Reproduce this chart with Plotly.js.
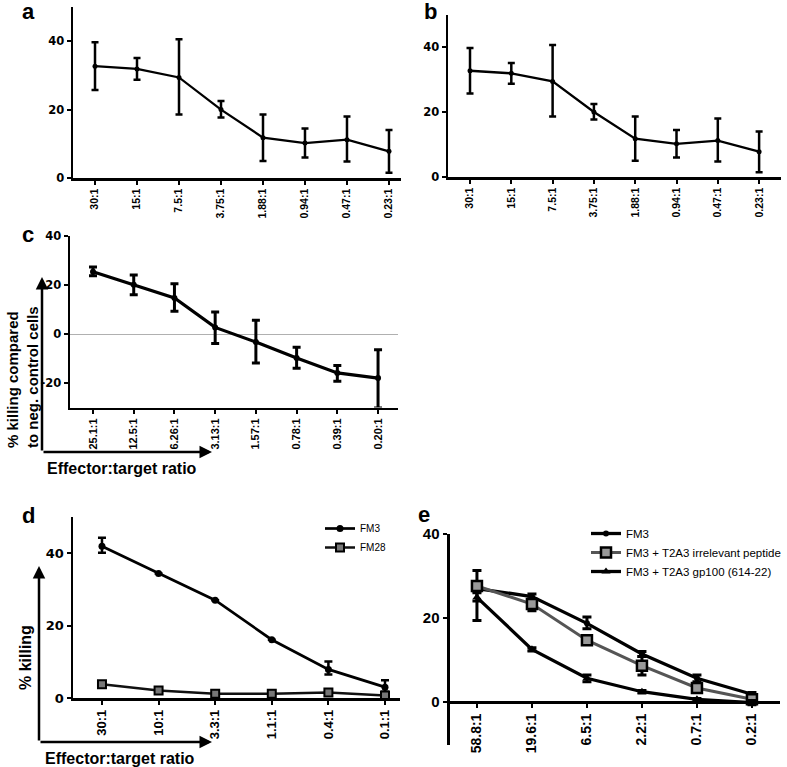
<!DOCTYPE html>
<html>
<head>
<meta charset="utf-8">
<script src="https://cdn.plot.ly/plotly-3.0.1.min.js"></script>
<style>html,body{margin:0;padding:0;background:#fff;}#chart{width:787px;height:767px;}</style>
</head>
<body>
<div id="chart"></div>
<script>
// ---------- DATA ----------
// panels a and b (same experiment shown twice)
const ratiosA = ['30:1','15:1','7.5:1','3.75:1','1.88:1','0.94:1','0.47:1','0.23:1'];
const killA   = [32.7, 31.9, 29.4, 20.0, 11.8, 10.2, 11.2, 7.8];
const hiA     = [39.7, 35.1, 40.6, 22.5, 18.6, 14.5, 18.0, 14.0];
const loA     = [25.7, 28.7, 18.6, 17.7, 5.0, 6.0, 4.8, 1.5];

// panel c
const ratiosC = ['25.1:1','12.5:1','6.26:1','3.13:1','1.57:1','0.78:1','0.39:1','0.20:1'];
const killC   = [25.4, 20.1, 14.7, 2.7, -3.3, -9.8, -15.9, -18.0];
const hiC     = [27.3, 24.1, 20.5, 9.0, 5.6, -5.4, -12.9, -6.4];
const loC     = [23.8, 16.0, 9.3, -3.9, -11.8, -14.0, -19.3, -30.2];

// panel d
const ratiosD = ['30:1','10:1','3.3:1','1.1:1','0.4:1','0.1:1'];
const fm3D    = [41.9, 34.4, 27.0, 16.1, 7.9, 3.0];
const fm3DHi  = [44.3, 34.4, 27.0, 16.1, 10.1, 4.9];
const fm3DLo  = [40.1, 34.4, 27.0, 16.1, 6.5, 1.7];
const fm28D   = [3.8, 2.1, 1.2, 1.2, 1.5, 0.7];
const fm28DHi = [3.8, 2.1, 1.2, 1.2, 2.3, 1.0];
const fm28DLo = [3.8, 2.1, 1.2, 1.2, 0.8, 0.3];

// panel e
const ratiosE = ['58.8:1','19.6:1','6.5:1','2.2:1','0.7:1','0.2:1'];
const fm3E    = [27.0, 25.1, 18.7, 11.4, 5.6, 1.8];
const fm3EHi  = [27.6, 25.7, 20.2, 12.0, 6.4, 2.2];
const fm3ELo  = [26.4, 24.5, 17.4, 10.8, 4.8, 1.4];
const irrE    = [27.6, 23.3, 14.7, 8.6, 3.3, 0.6];
const irrEHi  = [31.3, 24.5, 15.3, 10.8, 3.9, 1.0];
const irrELo  = [24.0, 21.7, 14.1, 6.4, 2.7, 0.2];
const gpE     = [24.9, 12.5, 5.6, 2.4, 0.6, -0.2];
const gpEHi   = [26.0, 12.9, 6.4, 2.7, 0.8, 0.3];
const gpELo   = [19.4, 12.1, 4.8, 2.1, 0.4, -0.7];

const yTicksPos = [0, 20, 40];
const yTicksC = [-20, 0, 20, 40];
const seriesNamesD = ['FM3', 'FM28'];
const seriesNamesE = ['FM3', 'FM3 + T2A3 irrelevant peptide', 'FM3 + T2A3 gp100 (614-22)'];
const yTitleC = '% killing compared<br>to neg. control cells';
const yTitleD = '% killing';
const xTitle = 'Effector:target ratio';
const panelLetters = ['a', 'b', 'c', 'd', 'e'];

// ---------- HELPERS ----------
const W = 787, H = 767;
const px = p => p / W;
const py = p => 1 - p / H;
const plus = (v, hi) => v.map((d, i) => +(hi[i] - d).toFixed(3));
const minus = (v, lo) => v.map((d, i) => +(d - lo[i]).toFixed(3));
const b = s => '<b>' + s + '</b>';
const BOLD = 'Liberation Sans, Arial, sans-serif';
const DJ = 'DejaVu Sans, Liberation Sans, sans-serif';

function errs(v, hi, lo, th, w) {
  return {type: 'data', symmetric: false, array: plus(v, hi), arrayminus: minus(v, lo),
          color: '#000', thickness: th, width: w};
}

const traces = [];
// a
traces.push({x: ratiosA, y: killA, xaxis: 'x', yaxis: 'y', type: 'scatter', mode: 'lines+markers',
  line: {color: '#000', width: 2.3}, marker: {color: '#000', size: 5, symbol: 'circle'},
  error_y: errs(killA, hiA, loA, 2.5, 3.5), showlegend: false, cliponaxis: false});
// b
traces.push({x: ratiosA, y: killA, xaxis: 'x2', yaxis: 'y2', type: 'scatter', mode: 'lines+markers',
  line: {color: '#000', width: 2.3}, marker: {color: '#000', size: 5, symbol: 'circle'},
  error_y: errs(killA, hiA, loA, 2.5, 3.5), showlegend: false, cliponaxis: false});
// c
traces.push({x: ratiosC, y: killC, xaxis: 'x3', yaxis: 'y3', type: 'scatter', mode: 'lines+markers',
  line: {color: '#000', width: 3.2}, marker: {color: '#000', size: 6, symbol: 'circle'},
  error_y: errs(killC, hiC, loC, 3, 4), showlegend: false, cliponaxis: false});
// d
traces.push({x: ratiosD, y: fm3D, name: seriesNamesD[0], xaxis: 'x4', yaxis: 'y4', type: 'scatter', mode: 'lines+markers',
  line: {color: '#000', width: 2.7}, marker: {color: '#000', size: 7, symbol: 'circle'},
  error_y: errs(fm3D, fm3DHi, fm3DLo, 2.5, 4), legend: 'legend', cliponaxis: false});
traces.push({x: ratiosD, y: fm28D, name: seriesNamesD[1], xaxis: 'x4', yaxis: 'y4', type: 'scatter', mode: 'lines+markers',
  line: {color: '#111', width: 2.5}, marker: {color: '#777', size: 8, symbol: 'square', line: {color: '#000', width: 2}},
  error_y: errs(fm28D, fm28DHi, fm28DLo, 2.5, 4), legend: 'legend', cliponaxis: false});
// e
traces.push({x: ratiosE, y: fm3E, name: seriesNamesE[0], xaxis: 'x5', yaxis: 'y5', type: 'scatter', mode: 'lines+markers',
  line: {color: '#000', width: 3.3}, marker: {color: '#000', size: 6, symbol: 'circle'},
  error_y: errs(fm3E, fm3EHi, fm3ELo, 3, 4.5), legend: 'legend2', cliponaxis: false});
traces.push({x: ratiosE, y: irrE, name: seriesNamesE[1], xaxis: 'x5', yaxis: 'y5', type: 'scatter', mode: 'lines+markers',
  line: {color: '#555', width: 3}, marker: {color: '#999', size: 10, symbol: 'square', line: {color: '#000', width: 2.5}},
  error_y: errs(irrE, irrEHi, irrELo, 3, 4.5), legend: 'legend2', cliponaxis: false});
traces.push({x: ratiosE, y: gpE, name: seriesNamesE[2], xaxis: 'x5', yaxis: 'y5', type: 'scatter', mode: 'lines+markers',
  line: {color: '#000', width: 3.3}, marker: {color: '#000', size: 8, symbol: 'triangle-up'},
  error_y: errs(gpE, gpEHi, gpELo, 3, 4.5), legend: 'legend2', cliponaxis: false});

function xax(cats, d0, d1, r0, r1, font, extra) {
  return Object.assign({domain: [px(d0), px(d1)], type: 'category', range: [r0, r1],
    tickmode: 'array', tickvals: cats, ticktext: cats.map(b),
    showline: true, linecolor: '#000', linewidth: 2.5, ticks: 'outside', ticklen: 4, tickwidth: 2,
    tickcolor: '#000', tickangle: -90, tickfont: font, showgrid: false, zeroline: false, fixedrange: true}, extra || {});
}
function yax(top, bot, r0, r1, tv, font, extra) {
  return Object.assign({domain: [py(bot), py(top)], range: [r0, r1], tickmode: 'array', tickvals: tv, ticktext: tv.map(v => b(String(v))),
    showline: true, linecolor: '#000', linewidth: 2.5, ticks: 'outside', ticklen: 4, tickwidth: 2,
    tickcolor: '#000', tickfont: font, showgrid: false, zeroline: false, fixedrange: true}, extra || {});
}

const fAx = {family: BOLD, size: 10.5, color: '#000'};
const fAy = {family: DJ, size: 11.5, color: '#000'};

const layout = {
  width: W, height: H, margin: {l: 0, r: 0, t: 0, b: 0, autoexpand: false}, paper_bgcolor: '#fff', plot_bgcolor: 'rgba(0,0,0,0)',
  font: {family: BOLD, color: '#000'},
  xaxis:  xax(ratiosA, 73, 401, -0.524, 7.286, fAx, {anchor: 'y'}),
  yaxis:  yax(7, 178, 0, 50, yTicksPos, fAy, {anchor: 'x'}),
  xaxis2: xax(ratiosA, 448, 781, -0.533, 7.53, fAx, {anchor: 'y2'}),
  yaxis2: yax(14.5, 177, 0, 50, yTicksPos, fAy, {anchor: 'x2'}),
  xaxis3: xax(ratiosC, 70, 398, -0.565, 7.49, {family: BOLD, size: 11, color: '#000'}, {anchor: 'y3'}),
  yaxis3: yax(236, 407.5, -30, 40, yTicksC, fAy, {anchor: 'x3', zeroline: true, zerolinecolor: '#b0b0b0', zerolinewidth: 1}),
  xaxis4: xax(ratiosD, 73, 400, -0.512, 5.265, {family: BOLD, size: 13, color: '#000'}, {anchor: 'y4'}),
  yaxis4: yax(517, 698, 0, 50, yTicksPos, {family: DJ, size: 13, color: '#000'}, {anchor: 'x4'}),
  xaxis5: xax(ratiosE, 450, 780, -0.49, 5.51, {family: BOLD, size: 14, color: '#000'},
              {anchor: 'free', position: py(702), linewidth: 3}),
  yaxis5: yax(534, 745, -10.3, 40, yTicksPos, {family: BOLD, size: 15, color: '#000'},
              {anchor: 'x5', linewidth: 3.5}),
  legend: {x: px(320), y: py(514), xanchor: 'left', yanchor: 'top', bgcolor: 'rgba(0,0,0,0)',
           font: {family: BOLD, size: 10, color: '#000'}, tracegroupgap: 0, itemwidth: 30},
  legend2: {x: px(586), y: py(519), xanchor: 'left', yanchor: 'top', bgcolor: 'rgba(0,0,0,0)',
           font: {family: BOLD, size: 11.5, color: '#000'}, tracegroupgap: 0, itemwidth: 30},
  annotations: [],
  showlegend: true
};

const A = layout.annotations;
const letterPos = [[28, 11], [430, 11], [28, 235], [28, 515], [424, 514]];
panelLetters.forEach((t, i) => {
  A.push({text: b(t), xref: 'paper', yref: 'paper', x: px(letterPos[i][0]), y: py(letterPos[i][1]),
          xanchor: 'center', yanchor: 'middle', height: 17, valign: 'middle',
          showarrow: false, font: {family: BOLD, size: 22, color: '#000'}});
});

function arrow(xt, yt, ax, ay) {
  A.push({text: '', xref: 'paper', yref: 'paper', x: px(xt), y: py(yt), ax: ax, ay: ay, axref: 'pixel', ayref: 'pixel',
          showarrow: true, arrowhead: 2, arrowsize: 1, arrowwidth: 2.5, arrowcolor: '#000', standoff: 0, startstandoff: 0});
}
// c arrows
arrow(42, 277, 0, 175);
arrow(212, 452, -170, 0);
// d arrows
arrow(39, 566, 0, 176);
arrow(212, 742, -173, 0);

A.push({text: b(yTitleC), xref: 'paper', yref: 'paper', x: px(22), y: py(450), xanchor: 'center', yanchor: 'bottom',
        textangle: -90, align: 'left', showarrow: false, font: {family: BOLD, size: 15, color: '#000'}});
A.push({text: b(xTitle), xref: 'paper', yref: 'paper', x: px(45), y: py(468), xanchor: 'left', yanchor: 'middle',
        showarrow: false, font: {family: BOLD, size: 16, color: '#000'}});
A.push({text: b(yTitleD), xref: 'paper', yref: 'paper', x: px(25), y: py(658), xanchor: 'center', yanchor: 'middle',
        textangle: -90, showarrow: false, font: {family: BOLD, size: 16, color: '#000'}});
A.push({text: b(xTitle), xref: 'paper', yref: 'paper', x: px(43), y: py(758), xanchor: 'left', yanchor: 'middle',
        showarrow: false, font: {family: BOLD, size: 16, color: '#000'}});

Plotly.newPlot('chart', traces, layout, {displayModeBar: false, staticPlot: true});
</script>
</body>
</html>
